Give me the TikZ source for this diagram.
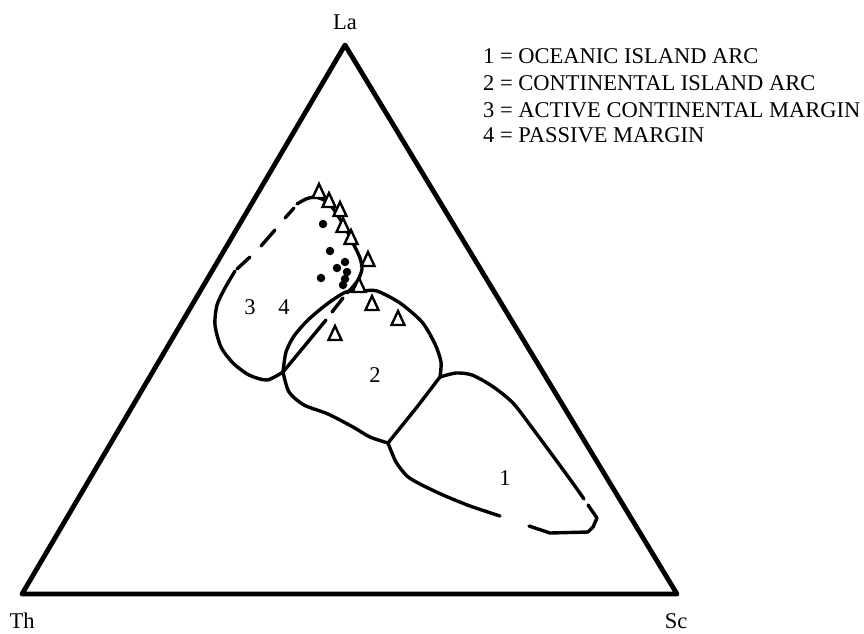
\documentclass[tikz,border=0pt]{standalone}
\usepackage{fontspec}
\setmainfont{Liberation Serif}
\usetikzlibrary{positioning}

\begin{document}
\begin{tikzpicture}[
    x=1pt, y=-1pt,
    every node/.style={font=\fontsize{22.5}{26}\selectfont, inner sep=0pt},
    frame/.style={line width=4.8pt, line join=round},
    field/.style={line width=3.4pt, line join=round, line cap=round},
    curve/.style={field, smooth, tension=0.45},
    sample/.style={line width=2.4pt, fill=white, line join=miter},
    dot/.style={circle, fill=black, minimum size=8.5pt}
]
    \useasboundingbox (0,0) rectangle (864,633);

    % Ternary frame
    \coordinate (La) at (345,45);
    \coordinate (Th) at (22,594);
    \coordinate (Sc) at (677,594);
    \draw[frame] (La) -- (Th) -- (Sc) -- cycle;
    \node[anchor=base] (laLabel) at (345,29) {La};
    \node[anchor=base] (thLabel) at (22,628) {Th};
    \node[anchor=base] (scLabel) at (676,628) {Sc};

    % Legend
    \node[anchor=base west] (key1) at (483,63) {1 = OCEANIC ISLAND ARC};
    \node[anchor=base west] (key2) at (483,90) {2 = CONTINENTAL ISLAND ARC};
    \node[anchor=base west] (key3) at (483,117) {3 = ACTIVE CONTINENTAL MARGIN};
    \node[anchor=base west] (key4) at (483,142) {4 = PASSIVE MARGIN};

    % Fields 3 and 4
    \draw[curve] plot coordinates {(235,271) (225,288) (217,305) (215,325) (221,347) (233,363) (249,375) (267,380) (283,372)};
    \draw[field] (237,269) -- (250,257);
    \draw[field] (261,246) -- (275,230);
    \draw[field] (285,218) -- (294,208);
    \draw[curve] plot coordinates {(297,204) (306,199) (315,197) (324,200) (332,207) (340,219) (347,231) (354,245) (360,258) (362,269) (358,280) (351,289) (347,293)};
    \draw[field] (343,298) -- (332,312);
    \draw[field] (326,320) -- (283,372);

    % Field 2
    \draw[curve] plot coordinates {(283,372) (286,352) (294,336) (308,320) (327,304) (346,292) (362,291) (377,291) (400,303) (422,322) (435,344) (441,362) (440,377)};
    \draw[field] (440,377) -- (417,407) -- (388,443);
    \draw[curve] plot coordinates {(388,443) (370,437) (353,427) (328,414) (304,405) (289,392) (283,372)};

    % Field 1
    \draw[curve] plot coordinates {(440,377) (456,373) (472,375) (492,386) (513,403) (533,429) (553,456) (572,482) (584,499)};
    \draw[field] (588,505) -- (597,518) -- (593,527) -- (588,532) -- (550,533) -- (529,526);
    \draw[curve] plot coordinates {(500,516) (470,506) (443,495) (420,484) (407,476) (396,462) (388,443)};

    % Field numbers
    \node (n1) at (505,478) {1};
    \node (n2) at (375,375) {2};
    \node (n3) at (250,307) {3};
    \node (n4) at (284,307) {4};

    % Samples
    \foreach \x/\y in {323/224, 330/251, 345/262, 337/268, 321/278, 347/272, 345/279, 343/285}
        \node[dot] at (\x,\y) {};
    \foreach \x/\y in {319/191, 329/200, 340/209, 343/225, 351/237, 368/259, 359/285, 372/303, 398/318, 335/333}
        \draw[sample] (\x,\y) ++(-6.5,7) -- ++(13,0) -- ++(-6.5,-14) -- cycle;
\end{tikzpicture}
\end{document}
